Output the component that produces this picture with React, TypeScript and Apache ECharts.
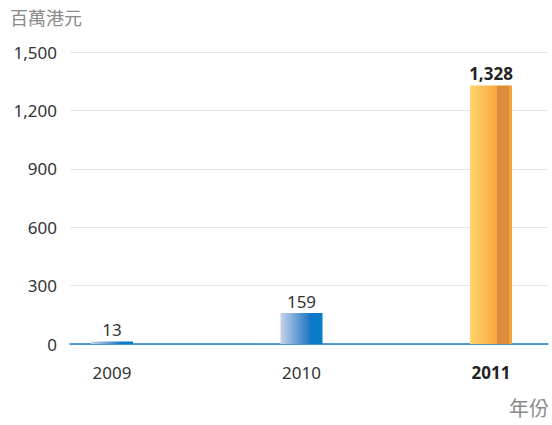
import React, { useEffect, useRef } from "react";
import * as echarts from "echarts";

const years = ["2009", "2010", "2011"];
const values = [13, 159, 1328];
const yTicks = { min: 0, max: 1500, interval: 300 };
const unitLabel = "百萬港元";
const xName = "年份";

const FONT = "'Noto Sans', 'Noto Sans CJK TC', sans-serif";

const blueGrad = new echarts.graphic.LinearGradient(0, 0, 1, 0, [
  { offset: 0, color: "#c6d3ea" },
  { offset: 0.7, color: "#1f76c4" },
  { offset: 0.7, color: "#0a7bc9" },
  { offset: 1, color: "#0a7bc9" },
]);
const orangeGrad = new echarts.graphic.LinearGradient(0, 0, 1, 0, [
  { offset: 0, color: "#ffd46f" },
  { offset: 0.65, color: "#f9a63a" },
  { offset: 0.65, color: "#dc8d3c" },
  { offset: 0.94, color: "#dc8d3c" },
  { offset: 0.94, color: "#f3a23a" },
  { offset: 1, color: "#f3a23a" },
]);

export default function App() {
  const ref = useRef<HTMLDivElement>(null);
  useEffect(() => {
    if (!ref.current) return;
    const chart = echarts.init(ref.current, undefined, { renderer: "svg" });
    const last = years.length - 1;
    chart.setOption({
      animation: false,
      textStyle: { fontFamily: FONT },
      graphic: [
        {
          type: "text",
          left: 10,
          top: 9,
          style: { text: unitLabel, fill: "#8a8a8a", fontSize: 18, fontFamily: FONT },
        },
        {
          type: "text",
          right: 3,
          top: 398,
          style: { text: xName, fill: "#8a8a8a", fontSize: 20, fontFamily: FONT },
        },
      ],
      grid: [
        { left: 70, right: 4, top: 52, bottom: 81 },
        { left: 112, right: 61, top: 52, bottom: 81 },
      ],
      xAxis: [
        {
          gridIndex: 0,
          type: "value",
          min: 0,
          max: 1,
          show: true,
          axisLine: { show: true, onZero: true, lineStyle: { color: "#1a7cc8", width: 1.5 } },
          axisTick: { show: false },
          axisLabel: { show: false },
          splitLine: { show: false },
        },
        {
          gridIndex: 1,
          type: "category",
          data: years,
          boundaryGap: false,
          axisLine: { show: false },
          axisTick: { show: false },
          axisLabel: {
            margin: 20,
            fontSize: 17,
            color: "#333",
            fontFamily: FONT,
            formatter: (v: string, i: number) => (i === last ? `{b|${v}}` : v),
            rich: { b: { fontWeight: "bold", fontSize: 17, color: "#222", fontFamily: FONT } },
          },
        },
      ],
      yAxis: [
        {
          gridIndex: 0,
          type: "value",
          min: yTicks.min,
          max: yTicks.max,
          interval: yTicks.interval,
          axisLine: { show: false },
          axisTick: { show: false },
          axisLabel: {
            margin: 13,
            fontSize: 17,
            color: "#333",
            fontFamily: FONT,
            formatter: (v: number) => v.toLocaleString("en-US"),
          },
          splitLine: { show: true, lineStyle: { color: "#e6e6e6", width: 1 } },
        },
        {
          gridIndex: 1,
          type: "value",
          min: yTicks.min,
          max: yTicks.max,
          interval: yTicks.interval,
          show: false,
          splitLine: { show: false },
        },
      ],
      series: [
        {
          type: "bar",
          xAxisIndex: 1,
          yAxisIndex: 1,
          barWidth: 42,
          data: values.map((v, i) => ({
            value: v,
            itemStyle: { color: i === last ? orangeGrad : blueGrad },
            label:
              i === last
                ? { fontWeight: "bold", color: "#222" }
                : { fontWeight: "normal", color: "#333" },
          })),
          label: {
            show: true,
            position: "top",
            distance: 3,
            fontSize: 17,
            fontFamily: FONT,
            formatter: (p: any) => Number(p.value).toLocaleString("en-US"),
          },
        },
      ],
    });
    return () => chart.dispose();
  }, []);
  return (
    <div
      ref={ref}
      style={{ position: "fixed", left: 0, top: 0, width: 552, height: 425, background: "#fff" }}
    />
  );
}
